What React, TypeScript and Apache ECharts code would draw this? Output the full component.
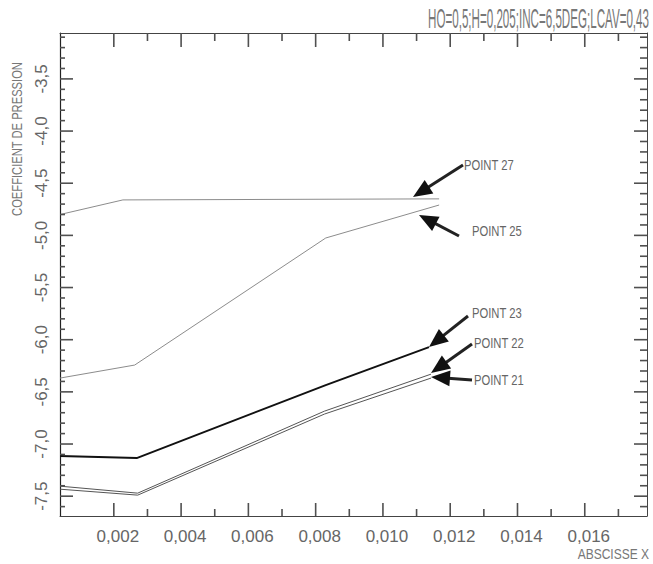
import React, { useEffect, useRef } from "react";
import * as echarts from "echarts";

// ---- texts ----
const TITLE = "HO=0,5;H=0,205;INC=6,5DEG;LCAV=0,43";
const Y_NAME = "COEFFICIENT DE PRESSION";
const X_NAME = "ABSCISSE X";

// ---- axes ----
const X_MIN = 0.0004;
const X_MAX = 0.01785;
const Y_MIN = -7.69;
const Y_MAX = -3.06;
const X_MAJOR = [0.002, 0.004, 0.006, 0.008, 0.01, 0.012, 0.014, 0.016];
const X_MINOR = [0.003, 0.005, 0.007, 0.009, 0.011, 0.013, 0.015, 0.017];
const Y_MAJOR = [-7.5, -7.0, -6.5, -6.0, -5.5, -5.0, -4.5, -4.0, -3.5];
const Y_MINOR = [
  -7.6, -7.4, -7.3, -7.2, -7.1, -6.9, -6.8, -6.7, -6.6, -6.4, -6.3, -6.2, -6.1,
  -5.9, -5.8, -5.7, -5.6, -5.4, -5.3, -5.2, -5.1, -4.9, -4.8, -4.7, -4.6, -4.4,
  -4.3, -4.2, -4.1, -3.9, -3.8, -3.7, -3.6, -3.4, -3.3, -3.2, -3.1,
];

// ---- series ----
const P27_X = [0.0004, 0.00227, 0.01167];
const P27_Y = [-4.8, -4.66, -4.65];
const P25_X = [0.0004, 0.00262, 0.0083, 0.01167];
const P25_Y = [-6.368, -6.243, -5.025, -4.709];
const P23_X = [0.0004, 0.00268, 0.0083, 0.01137];
const P23_Y = [-7.116, -7.135, -6.435, -6.071];
const P22_X = [0.0004, 0.00271, 0.00826, 0.01143];
const P22_Y = [-7.404, -7.471, -6.685, -6.33];
const P21_X = [0.0004, 0.00271, 0.00826, 0.01143];
const P21_Y = [-7.433, -7.49, -6.713, -6.368];

// ---- annotation labels ----
const LABELS = ["POINT 27", "POINT 25", "POINT 23", "POINT 22", "POINT 21"];

const FONT = "'Liberation Sans', Arial, sans-serif";
const W = 653;
const H = 564;

const zip = (xs: number[], ys: number[]) => xs.map((x, i) => [x, ys[i]]);

// layout of annotations (pixels): [tailX, tailY, tipX, tipY, labelX, labelY]
const ARROW_LAYOUT = [
  [463, 165, 413, 197, 464, 165],
  [459, 236, 419, 215, 472, 231],
  [468, 316, 429, 347, 472, 313],
  [472, 344, 431, 373, 474, 343],
  [472, 380, 431, 377, 474, 380],
];

function arrow(tx: number, ty: number, hx: number, hy: number) {
  const dx = hx - tx;
  const dy = hy - ty;
  const len = Math.sqrt(dx * dx + dy * dy);
  const ux = dx / len;
  const uy = dy / len;
  const headLen = 19;
  const headW = 8;
  const bx = hx - ux * headLen;
  const by = hy - uy * headLen;
  const px = -uy;
  const py = ux;
  return [
    {
      type: "line",
      shape: { x1: tx, y1: ty, x2: bx + ux * 2, y2: by + uy * 2 },
      style: { stroke: "#222", lineWidth: 3 },
      z: 100,
    },
    {
      type: "polygon",
      shape: {
        points: [
          [hx, hy],
          [bx + px * headW, by + py * headW],
          [bx - px * headW, by - py * headW],
        ],
      },
      style: { fill: "#111" },
      z: 100,
    },
  ];
}

function label(text: string, x: number, y: number, size: number, sx: number, align: string, color = "#666", rotation = 0) {
  return {
    type: "text",
    x,
    y,
    rotation,
    scaleX: sx,
    scaleY: 1,
    z: 100,
    style: {
      text,
      fontSize: size,
      fontFamily: FONT,
      fill: color,
      align,
      textAlign: align,
      verticalAlign: "middle",
      textVerticalAlign: "middle",
    },
  };
}

// frame tick marks placed through the axes' own scale (custom series)
function tickSeries(values: number[], dir: "x" | "y", lenA: number, lenB: number) {
  return {
    type: "custom",
    coordinateSystem: "cartesian2d",
    xAxisIndex: 0,
    yAxisIndex: 0,
    silent: true,
    clip: false,
    z: 50,
    data: values.map((v) => (dir === "x" ? [v, Y_MIN] : [X_MIN, v])),
    renderItem: (params: any, api: any) => {
      const style = { stroke: "#505050", lineWidth: 1.6, fill: "none" };
      if (dir === "x") {
        const v = api.value(0);
        const b = api.coord([v, Y_MIN]);
        const t = api.coord([v, Y_MAX]);
        return {
          type: "group",
          children: [
            { type: "polyline", shape: { points: [[b[0], b[1]], [b[0], b[1] - lenA]] }, style },
            { type: "polyline", shape: { points: [[t[0], t[1]], [t[0], t[1] + lenB]] }, style },
          ],
        };
      }
      const v = api.value(1);
      const l = api.coord([X_MIN, v]);
      const r = api.coord([X_MAX, v]);
      return {
        type: "group",
        children: [
          { type: "polyline", shape: { points: [[l[0], l[1]], [l[0] + lenA, l[1]]] }, style },
          { type: "polyline", shape: { points: [[r[0], r[1]], [r[0] - lenB, r[1]]] }, style },
        ],
      };
    },
  };
}

export default function App() {
  const ref = useRef<HTMLDivElement>(null);

  useEffect(() => {
    if (!ref.current) return;
    const chart = echarts.init(ref.current, undefined, { renderer: "svg" });

    const axisCol = "#444";

    const graphics: any[] = [];
    graphics.push(label(TITLE, 649, 18, 27, 0.43, "right", "#777"));
    graphics.push(label(Y_NAME, 18, 139, 14, 0.8, "center", "#777", Math.PI / 2));
    graphics.push(label(X_NAME, 649, 554, 15, 0.8, "right", "#777"));
    ARROW_LAYOUT.forEach((a, i) => {
      graphics.push(...arrow(a[0], a[1], a[2], a[3]));
      graphics.push(label(LABELS[i], a[4], a[5], 15, 0.75, "left", "#666"));
    });

    const lineSeries = (name: string, xs: number[], ys: number[], color: string, width: number) => ({
      name,
      type: "line",
      xAxisIndex: 0,
      yAxisIndex: 0,
      data: zip(xs, ys),
      symbol: "none",
      lineStyle: { color, width },
      silent: true,
      z: 10,
    });

    chart.setOption({
      animation: false,
      backgroundColor: "#ffffff",
      grid: { left: 60, right: 6, top: 33, bottom: 48, outerBoundsMode: "none" },
      xAxis: [
        {
          type: "value",
          min: X_MIN,
          max: X_MAX,
          position: "bottom",
          splitLine: { show: false },
          axisLine: { show: true, lineStyle: { color: axisCol, width: 1 } },
          axisTick: { show: false },
          axisLabel: {
            show: true,
            customValues: X_MAJOR,
            formatter: (v: number) => v.toFixed(3).replace(".", ","),
            fontSize: 17,
            fontFamily: FONT,
            color: "#666",
            margin: 12,
            padding: [0, 0, 0, 8],
          },
        },
        {
          type: "value",
          min: X_MIN,
          max: X_MAX,
          position: "top",
          splitLine: { show: false },
          axisLine: { show: true, lineStyle: { color: axisCol, width: 1 } },
          axisTick: { show: false },
          axisLabel: { show: false },
        },
      ],
      yAxis: [
        {
          type: "value",
          min: Y_MIN,
          max: Y_MAX,
          position: "left",
          splitLine: { show: false },
          axisLine: { show: true, lineStyle: { color: "#222", width: 1.2 } },
          axisTick: { show: false },
          axisLabel: {
            show: true,
            customValues: Y_MAJOR,
            formatter: (v: number) => v.toFixed(1).replace(".", ","),
            rotate: 90,
            fontSize: 17,
            fontFamily: FONT,
            color: "#666",
            margin: 10,
          },
        },
        {
          type: "value",
          min: Y_MIN,
          max: Y_MAX,
          position: "right",
          splitLine: { show: false },
          axisLine: { show: true, lineStyle: { color: axisCol, width: 1 } },
          axisTick: { show: false },
          axisLabel: { show: false },
        },
      ],
      series: [
        tickSeries(X_MAJOR, "x", 13, 14),
        tickSeries(X_MINOR, "x", 7, 8),
        tickSeries(Y_MAJOR, "y", 13, 13),
        tickSeries(Y_MINOR, "y", 5, 7),
        lineSeries("POINT 27", P27_X, P27_Y, "#8c8c8c", 1),
        lineSeries("POINT 25", P25_X, P25_Y, "#8c8c8c", 1),
        lineSeries("POINT 23", P23_X, P23_Y, "#111111", 2),
        lineSeries("POINT 22", P22_X, P22_Y, "#555555", 1),
        lineSeries("POINT 21", P21_X, P21_Y, "#555555", 1),
      ],
      graphic: graphics,
    });

    return () => chart.dispose();
  }, []);

  return <div ref={ref} style={{ position: "fixed", left: 0, top: 0, width: W, height: H }} />;
}
